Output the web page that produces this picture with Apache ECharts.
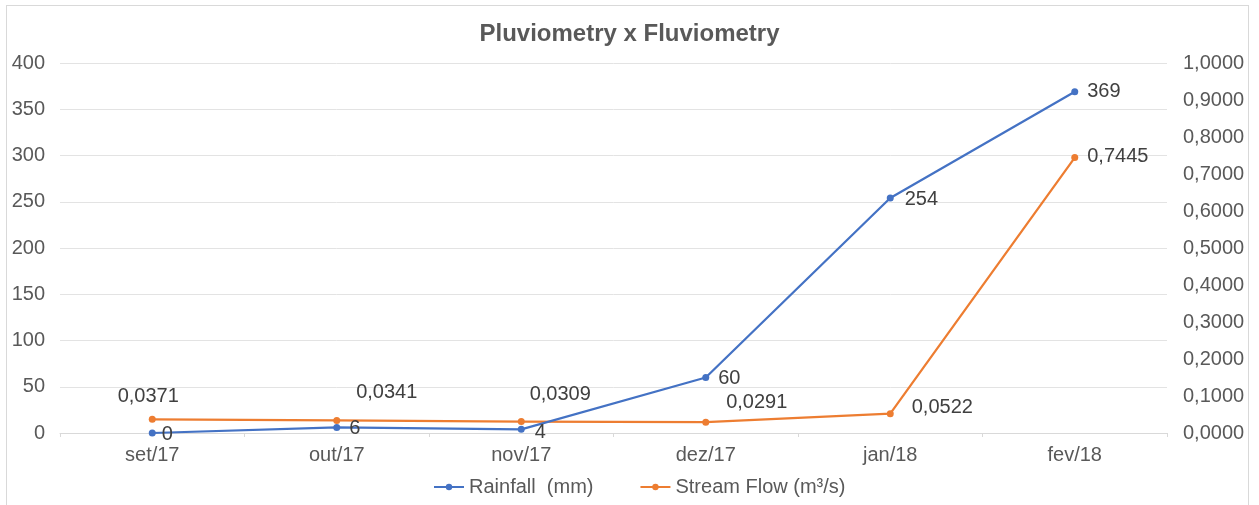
<!DOCTYPE html>
<html>
<head>
<meta charset="utf-8">
<style>
  html, body { margin: 0; padding: 0; background: #fff; }
  #frame { position: absolute; left: 6px; top: 5px; width: 1243px; height: 510px; border: 1px solid #d9d9d9; box-sizing: border-box; }
  #chart { position: absolute; left: 0; top: 0; width: 1259px; height: 505px; }
</style>
<script src="https://cdn.jsdelivr.net/npm/echarts@6/dist/echarts.min.js"></script>
</head>
<body>
<div id="frame"></div>
<div id="chart"></div>
<script>
// Monthly rainfall and stream flow
const months = ['set/17', 'out/17', 'nov/17', 'dez/17', 'jan/18', 'fev/18'];
const rainfall = [0, 6, 4, 60, 254, 369];
const streamFlow = [0.0371, 0.0341, 0.0309, 0.0291, 0.0522, 0.7445];

// Label placement for each point
const rainLabelPos = [
  { offset: [-1, 1] },
  { offset: [2, 1] },
  { offset: [3, 3] },
  { offset: [2, 1] },
  { offset: [4, 1] },
  { offset: [2, 0] }
];
const flowLabelPos = [
  { position: 'top', offset: [-4, -2] },
  { position: 'top', offset: [50, -7] },
  { position: 'top', offset: [39, -7] },
  { position: 'top', offset: [51, 1] },
  { position: 'right', offset: [11, -6] },
  { position: 'right', offset: [2, -1] }
];

const fmtComma = (v, d) => v.toFixed(d).replace('.', ',');

const chart = echarts.init(document.getElementById('chart'), null, { renderer: 'canvas' });
const textColor = '#595959';
const font = 'Liberation Sans, Arial, sans-serif';

chart.setOption({
  animation: false,
  title: {
    text: 'Pluviometry x Fluviometry',
    left: 'center',
    top: 17,
    textStyle: { fontFamily: font, fontSize: 24, fontWeight: 'bold', color: textColor }
  },
  grid: { left: 60, right: 92, top: 63, bottom: 72, containLabel: false },
  legend: {
    top: 477,
    left: 433,
    padding: 0,
    itemWidth: 30,
    itemHeight: 8,
    itemGap: 46,
    textStyle: { fontFamily: font, fontSize: 20, color: textColor },
    data: ['Rainfall  (mm)', 'Stream Flow (m³/s)']
  },
  xAxis: {
    type: 'category',
    data: months,
    boundaryGap: true,
    axisLine: { lineStyle: { color: '#d9d9d9' } },
    axisTick: { show: true, length: 4, lineStyle: { color: '#d9d9d9' } },
    axisLabel: { fontFamily: font, fontSize: 20, color: textColor, margin: 12 }
  },
  yAxis: [
    {
      type: 'value',
      min: 0, max: 400, interval: 50,
      axisLine: { show: false },
      axisTick: { show: false },
      splitLine: { lineStyle: { color: '#e3e3e3' } },
      axisLabel: { fontFamily: font, fontSize: 20, color: textColor, margin: 15 }
    },
    {
      type: 'value',
      min: 0, max: 1, interval: 0.1,
      axisLine: { show: false },
      axisTick: { show: false },
      splitLine: { show: false },
      axisLabel: { fontFamily: font, fontSize: 20, color: textColor, margin: 16,
        formatter: v => fmtComma(v, 4) }
    }
  ],
  series: [
    {
      name: 'Rainfall  (mm)',
      type: 'line',
      yAxisIndex: 0,
      data: rainfall.map((v, i) => ({ value: v, label: rainLabelPos[i] })),
      symbol: 'circle',
      symbolSize: 7,
      lineStyle: { color: '#4472C4', width: 2.25 },
      itemStyle: { color: '#4472C4' },
      label: {
        show: true, position: 'right', distance: 7,
        fontFamily: font, fontSize: 20, color: '#404040'
      },
      z: 3
    },
    {
      name: 'Stream Flow (m³/s)',
      type: 'line',
      yAxisIndex: 1,
      data: streamFlow.map((v, i) => ({ value: v, label: flowLabelPos[i] })),
      symbol: 'circle',
      symbolSize: 7,
      lineStyle: { color: '#ED7D31', width: 2.25 },
      itemStyle: { color: '#ED7D31' },
      label: {
        show: true, distance: 7,
        fontFamily: font, fontSize: 20, color: '#404040',
        formatter: p => fmtComma(p.value, 4)
      },
      z: 2
    }
  ]
});
</script>
</body>
</html>
